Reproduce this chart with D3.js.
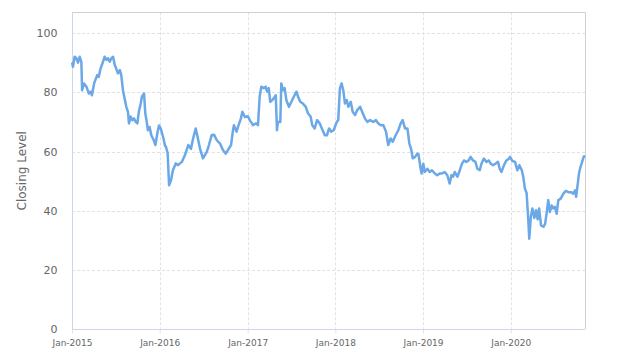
<!DOCTYPE html>
<html><head><meta charset="utf-8">
<script src="https://cdn.jsdelivr.net/npm/d3@7"></script>
<style>
html,body{margin:0;padding:0;background:#fff;}
svg{display:block;font-family:"DejaVu Sans",sans-serif;}
</style></head>
<body><svg id="chart" width="624" height="362"></svg>
<script>
const dates = ["2015-01-02","2015-01-05","2015-01-12","2015-01-19","2015-01-26","2015-02-02","2015-02-09","2015-02-12","2015-02-20","2015-03-02","2015-03-12","2015-03-20","2015-03-25","2015-04-03","2015-04-08","2015-04-16","2015-04-22","2015-04-30","2015-05-10","2015-05-17","2015-05-24","2015-05-31","2015-06-07","2015-06-14","2015-06-21","2015-06-28","2015-07-04","2015-07-11","2015-07-19","2015-07-25","2015-08-01","2015-08-08","2015-08-15","2015-08-22","2015-08-26","2015-09-02","2015-09-09","2015-09-16","2015-09-23","2015-09-30","2015-10-06","2015-10-14","2015-10-19","2015-10-28","2015-11-02","2015-11-08","2015-11-13","2015-11-20","2015-11-27","2015-12-07","2015-12-14","2015-12-22","2015-12-29",
"2016-01-05","2016-01-15","2016-01-23","2016-01-27","2016-02-03","2016-02-09","2016-02-17","2016-02-25","2016-03-08","2016-03-17","2016-04-02","2016-04-15","2016-04-29","2016-05-10","2016-05-19","2016-05-30","2016-06-08","2016-06-17","2016-06-29","2016-07-15","2016-07-24","2016-08-04","2016-08-14","2016-08-25","2016-09-08","2016-09-20","2016-10-02","2016-10-11","2016-10-24","2016-11-01","2016-11-05","2016-11-16","2016-11-22","2016-12-04","2016-12-10","2016-12-21",
"2017-01-02","2017-01-11","2017-01-15","2017-01-23","2017-02-05","2017-02-13","2017-02-20","2017-02-27","2017-03-09","2017-03-17","2017-03-23","2017-03-30","2017-04-05","2017-04-14","2017-04-24","2017-04-28","2017-05-03","2017-05-07","2017-05-17","2017-05-21","2017-05-28","2017-06-04","2017-06-11","2017-06-22","2017-07-02","2017-07-12","2017-07-23","2017-07-30","2017-08-08","2017-08-19","2017-08-31","2017-09-09","2017-09-20","2017-09-27","2017-10-07","2017-10-17","2017-10-28","2017-11-06","2017-11-18","2017-11-27","2017-12-06","2017-12-15","2017-12-25",
"2018-01-07","2018-01-13","2018-01-20","2018-01-27","2018-02-03","2018-02-10","2018-02-17","2018-02-24","2018-03-06","2018-03-14","2018-03-24","2018-04-02","2018-04-14","2018-04-25","2018-05-04","2018-05-14","2018-05-25","2018-06-08","2018-06-19","2018-06-29","2018-07-09","2018-07-20","2018-07-31","2018-08-09","2018-08-19","2018-08-28","2018-09-06","2018-09-20","2018-09-30","2018-10-08","2018-10-18","2018-10-28","2018-11-05","2018-11-12","2018-11-19","2018-11-29","2018-12-08","2018-12-13","2018-12-22","2018-12-26",
"2019-01-02","2019-01-08","2019-01-19","2019-01-29","2019-02-07","2019-02-19","2019-03-01","2019-03-11","2019-03-21","2019-04-01","2019-04-12","2019-04-22","2019-04-29","2019-05-06","2019-05-13","2019-05-24","2019-06-03","2019-06-12","2019-06-21","2019-06-30","2019-07-10","2019-07-18","2019-07-28","2019-08-07","2019-08-15","2019-08-25","2019-09-01","2019-09-11","2019-09-22","2019-10-01","2019-10-10","2019-10-19","2019-10-29","2019-11-09","2019-11-16","2019-11-23","2019-12-04","2019-12-14","2019-12-24","2019-12-29",
"2020-01-08","2020-01-19","2020-01-28","2020-02-06","2020-02-16","2020-02-22","2020-02-29","2020-03-07","2020-03-14","2020-03-18","2020-03-25","2020-03-31","2020-04-08","2020-04-15","2020-04-22","2020-04-28","2020-05-06","2020-05-16","2020-05-23","2020-05-30","2020-06-05","2020-06-12","2020-06-19","2020-06-26","2020-07-03","2020-07-10","2020-07-17","2020-07-27","2020-08-07","2020-08-17","2020-08-28","2020-09-08","2020-09-17","2020-09-25","2020-09-29","2020-10-06","2020-10-11","2020-10-17","2020-10-22","2020-10-28","2020-11-01"];
const closing = [89.7,88.6,92.0,91.5,90.0,92.0,90.3,80.7,83.0,81.9,79.6,80.2,79.0,83.0,84.1,85.8,85.2,88.0,90.3,92.0,90.9,91.5,90.3,91.5,92.0,89.2,88.0,86.4,87.5,85.8,80.7,77.9,75.1,73.4,69.5,71.8,70.6,71.2,70.0,69.5,73.4,76.2,78.5,79.6,72.9,70.0,67.2,68.3,65.5,63.9,62.2,66.1,68.8,
67.8,65.0,62.0,61.6,59.5,48.6,50.3,53.7,56.0,55.4,56.5,58.8,62.2,60.9,64.4,67.8,64.4,60.9,57.7,59.9,62.2,65.5,65.7,63.9,62.7,60.5,59.3,60.5,62.2,67.2,68.9,66.7,68.3,71.2,73.4,71.6,
71.9,70.4,70.0,68.9,69.5,68.9,78.5,81.9,81.4,81.9,80.2,81.4,76.8,77.4,78.5,79.0,67.2,70.0,70.0,83.0,80.7,81.4,77.4,75.1,76.8,78.5,80.2,78.5,76.8,76.2,75.1,72.9,71.8,68.9,67.8,70.6,69.5,67.8,65.5,65.5,67.8,66.7,67.2,
70.0,70.6,81.3,83.0,80.7,76.2,77.4,75.1,76.8,73.4,72.3,74.0,75.1,72.9,71.2,70.0,70.6,70.0,70.6,69.5,68.9,68.9,66.7,62.2,64.4,63.3,65.0,67.2,69.5,70.6,67.8,67.8,62.7,61.0,57.7,58.2,59.3,59.0,54.2,52.6,
55.9,53.1,54.2,53.1,53.7,52.6,52.0,52.6,52.6,53.1,52.0,49.2,52.0,51.5,53.1,51.5,53.7,55.9,57.0,56.5,57.0,58.2,57.0,56.5,54.2,53.7,55.9,57.6,56.5,57.0,55.9,55.4,55.9,56.5,54.2,53.1,55.4,57.0,57.6,58.2,
56.8,56.5,53.7,55.4,53.7,51.5,47.5,46.0,36.8,30.6,38.2,40.8,37.6,40.2,37.1,40.8,35.1,34.6,35.6,39.6,43.6,39.6,41.8,40.8,41.3,39.0,43.6,44.1,45.8,46.7,46.3,46.3,45.8,46.9,44.7,49.2,52.6,54.8,55.9,57.6,58.4];
const yTicks = [0,20,40,60,80,100];
const xTickYears = ["2015-01-01","2016-01-01","2017-01-01","2018-01-01","2019-01-01","2020-01-01"];
const yTitle = "Closing Level";

const parse = d3.timeParse("%Y-%m-%d");
const data = dates.map((d,i)=>({date:parse(d), value:closing[i]}));
const L=72, R=585, T=12.3, B=329.3;
const svg = d3.select("#chart");
const x = d3.scaleTime().domain([parse("2015-01-01"), parse("2020-11-05")]).range([L,R]);
const y = d3.scaleLinear().domain([0,107]).range([B,T]);

svg.append("g").selectAll("line").data(yTicks.filter(v=>v>0)).join("line")
  .attr("x1",L).attr("x2",R).attr("y1",d=>Math.round(y(d))+0.5).attr("y2",d=>Math.round(y(d))+0.5)
  .attr("stroke","#e2e2e2").attr("stroke-dasharray","3,2");
const xt = xTickYears.map(parse);
svg.append("g").selectAll("line").data(xt.slice(1)).join("line")
  .attr("x1",d=>Math.round(x(d))+0.5).attr("x2",d=>Math.round(x(d))+0.5).attr("y1",T).attr("y2",B)
  .attr("stroke","#e2e2e2").attr("stroke-dasharray","3,2");

svg.append("line").attr("x1",L).attr("x2",R+0.5).attr("y1",12.5).attr("y2",12.5).attr("stroke","#d0d0d0");
svg.append("line").attr("x1",R+0.5).attr("x2",R+0.5).attr("y1",12.5).attr("y2",B).attr("stroke","#d0d0d0");

const yAxis = d3.axisLeft(y).tickValues(yTicks).tickSize(0).tickPadding(15);
const gy = svg.append("g").attr("transform",`translate(${L+0.5},0)`).call(yAxis);
gy.select(".domain").attr("stroke","#ccd6eb").attr("d",`M0,${T}V${B}`);
gy.selectAll("text").attr("fill","#666").style("font-size","11px").style("font-family","DejaVu Sans");

const xAxis = d3.axisBottom(x).tickValues(xt).tickFormat(d3.timeFormat("%b-%Y")).tickSize(4).tickPadding(6);
const gx = svg.append("g").attr("transform",`translate(0,${Math.round(B)+0.5})`).call(xAxis);
gx.select(".domain").attr("stroke","#ccd6eb").attr("d",`M${L},0H${R}`);
gx.selectAll(".tick line").attr("stroke","#e2e2e2");
gx.selectAll("text").attr("fill","#666").style("font-size","9px").style("font-family","DejaVu Sans");

svg.append("text").attr("transform",`translate(26,${(T+B)/2}) rotate(-90)`)
  .attr("text-anchor","middle").attr("fill","#666").style("font-size","12px").text(yTitle);

const line = d3.line().x(d=>x(d.date)).y(d=>y(d.value));
svg.append("path").datum(data).attr("d",line).attr("fill","none")
  .attr("stroke","#6ba8e8").attr("stroke-width",2.5).attr("stroke-linejoin","round").attr("stroke-linecap","round");
</script></body></html>
